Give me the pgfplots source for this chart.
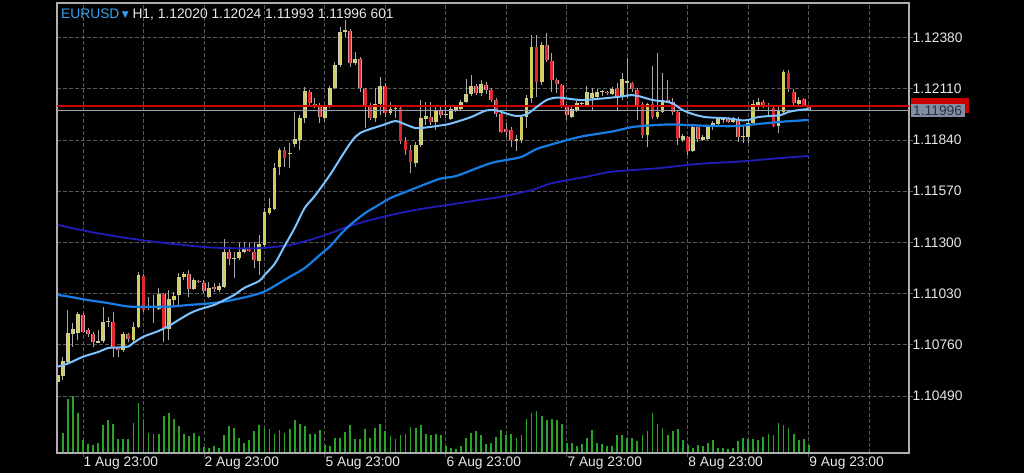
\documentclass[border=0pt]{standalone}
\usepackage{pgfplots}
\pgfplotsset{compat=1.18}
\usepackage{pgfplotstable}
\usepackage{fontspec}
\setmainfont{Liberation Sans}
\newfontfamily\dejavu{DejaVu Sans}
\definecolor{framegray}{RGB}{175,175,175}
\definecolor{gridgray}{RGB}{88,88,88}
\definecolor{lblgray}{RGB}{232,232,232}
\definecolor{wickgray}{RGB}{170,170,170}
\definecolor{bullfill}{RGB}{208,206,92}
\definecolor{bullline}{RGB}{205,205,180}
\definecolor{bearfill}{RGB}{220,40,46}
\definecolor{bearline}{RGB}{210,160,160}
\definecolor{malight}{RGB}{125,195,255}
\definecolor{mamid}{RGB}{22,125,228}
\definecolor{madark}{RGB}{32,30,185}
\definecolor{askred}{RGB}{205,0,0}
\definecolor{bidgray}{RGB}{150,160,175}
\definecolor{volgreen}{RGB}{40,165,40}
\definecolor{eurblue}{RGB}{55,160,240}
\definecolor{boxgray}{RGB}{128,143,162}
\definecolor{boxtext}{RGB}{40,50,62}

\pgfplotstableread{
x o h l c
-5 1.10565 1.10610 1.10557 1.10601
-4 1.10596 1.10694 1.10574 1.10676
-3 1.10671 1.10944 1.10662 1.10821
-2 1.10817 1.10873 1.10750 1.10843
-1 1.10824 1.10935 1.10785 1.10921
3 1.10771 1.10838 1.10768 1.10780
4 1.10780 1.10958 1.10771 1.10882
5 1.10882 1.10908 1.10856 1.10888
8 1.10733 1.10829 1.10724 1.10815
10 1.10785 1.10882 1.10776 1.10856
11 1.10856 1.11146 1.10847 1.11128
13 1.10956 1.11014 1.10944 1.10962
14 1.10958 1.11023 1.10873 1.10964
15 1.10947 1.11058 1.10944 1.11026
17 1.10843 1.11049 1.10785 1.11000
18 1.10996 1.11040 1.10961 1.11019
19 1.11023 1.11137 1.10970 1.11119
20 1.11119 1.11146 1.11102 1.11133
22 1.11054 1.11111 1.11049 1.11102
25 1.11014 1.11093 1.11005 1.11061
27 1.11049 1.11084 1.11040 1.11070
28 1.11066 1.11316 1.11058 1.11251
30 1.11213 1.11251 1.11111 1.11219
31 1.11216 1.11298 1.11207 1.11248
32 1.11248 1.11304 1.11243 1.11269
35 1.11204 1.11339 1.11128 1.11292
36 1.11286 1.11480 1.11277 1.11462
37 1.11457 1.11533 1.11445 1.11480
38 1.11475 1.11717 1.11471 1.11691
39 1.11699 1.11798 1.11656 1.11787
41 1.11766 1.11823 1.11691 1.11772
42 1.11819 1.11989 1.11805 1.11845
43 1.11840 1.11972 1.11787 1.11958
44 1.11955 1.12121 1.11928 1.12099
48 1.11958 1.12025 1.11937 1.12016
49 1.12016 1.12127 1.12007 1.12116
50 1.12116 1.12253 1.12109 1.12236
51 1.12236 1.12438 1.12227 1.12408
52 1.12408 1.12475 1.12385 1.12420
54 1.12245 1.12306 1.12236 1.12267
58 1.11955 1.12113 1.11937 1.12028
59 1.12028 1.12174 1.11972 1.12127
61 1.11981 1.12042 1.11972 1.12002
62 1.12005 1.12021 1.11955 1.12011
66 1.11717 1.11828 1.11699 1.11814
67 1.11814 1.12051 1.11805 1.11955
68 1.11951 1.12039 1.11919 1.11968
70 1.11935 1.12025 1.11893 1.11993
72 1.11970 1.12051 1.11955 1.11976
73 1.11949 1.12013 1.11946 1.12002
74 1.11995 1.12025 1.11988 1.12013
75 1.12002 1.12051 1.11995 1.12042
76 1.12042 1.12160 1.12034 1.12083
77 1.12083 1.12183 1.12072 1.12125
79 1.12086 1.12157 1.12072 1.12135
86 1.11837 1.11867 1.11784 1.11843
87 1.11840 1.11972 1.11826 1.11963
88 1.11963 1.12077 1.11902 1.12060
89 1.12060 1.12394 1.12034 1.12332
91 1.12148 1.12359 1.12130 1.12341
97 1.11960 1.12013 1.11955 1.12002
98 1.11998 1.12047 1.11989 1.12037
99 1.12029 1.12042 1.12013 1.12035
100 1.12025 1.12125 1.12016 1.12095
101 1.12060 1.12113 1.11998 1.12090
102 1.12067 1.12108 1.12051 1.12093
103 1.12091 1.12104 1.12072 1.12097
105 1.12083 1.12118 1.12077 1.12108
107 1.12069 1.12192 1.12051 1.12160
108 1.12142 1.12271 1.12060 1.12153
112 1.11867 1.12034 1.11805 1.12030
114 1.11960 1.12301 1.11949 1.11989
115 1.11989 1.12192 1.11981 1.12051
119 1.11840 1.11872 1.11831 1.11861
121 1.11784 1.11919 1.11778 1.11910
123 1.11840 1.11867 1.11836 1.11854
124 1.11844 1.11919 1.11840 1.11907
125 1.11907 1.11942 1.11893 1.11931
126 1.11925 1.11963 1.11919 1.11955
127 1.11943 1.11963 1.11928 1.11949
129 1.11937 1.11963 1.11928 1.11955
131 1.11857 1.11919 1.11826 1.11863
132 1.11854 1.11942 1.11823 1.11928
133 1.11928 1.12051 1.11919 1.12030
134 1.12025 1.12060 1.11998 1.12042
136 1.12018 1.12034 1.11963 1.12024
138 1.11914 1.12019 1.11876 1.11995
139 1.11989 1.12209 1.11981 1.12200
142 1.12030 1.12065 1.12025 1.12051
}\bulltab

\pgfplotstableread{
x o h l c
0 1.10917 1.10929 1.10821 1.10829
1 1.10838 1.10847 1.10803 1.10817
2 1.10817 1.10829 1.10750 1.10776
6 1.10879 1.10935 1.10694 1.10742
7 1.10742 1.10750 1.10697 1.10733
9 1.10815 1.10824 1.10776 1.10791
12 1.11124 1.11133 1.10935 1.10944
16 1.11026 1.11032 1.10776 1.10843
21 1.11133 1.11155 1.11014 1.11053
23 1.11097 1.11102 1.11084 1.11090
24 1.11088 1.11102 1.11032 1.11044
26 1.11066 1.11084 1.11040 1.11053
29 1.11248 1.11277 1.11181 1.11211
33 1.11265 1.11295 1.11251 1.11255
34 1.11248 1.11304 1.11163 1.11207
40 1.11787 1.11805 1.11699 1.11745
45 1.12095 1.12104 1.12025 1.12034
46 1.12031 1.12060 1.12007 1.12025
47 1.12016 1.12034 1.11928 1.11963
53 1.12417 1.12426 1.12227 1.12245
55 1.12267 1.12279 1.12095 1.12113
56 1.12109 1.12116 1.11902 1.12016
57 1.12025 1.12034 1.11946 1.11958
60 1.12127 1.12139 1.11963 1.11981
63 1.12010 1.12016 1.11817 1.11835
64 1.11835 1.11858 1.11761 1.11787
65 1.11787 1.11814 1.11665 1.11726
69 1.11963 1.12039 1.11919 1.11935
71 1.11995 1.12013 1.11955 1.11972
78 1.12125 1.12135 1.12077 1.12086
80 1.12130 1.12148 1.12083 1.12104
81 1.12104 1.12113 1.12042 1.12051
82 1.12051 1.12060 1.11963 1.11977
83 1.11977 1.11981 1.11876 1.11884
84 1.11897 1.11928 1.11858 1.11884
85 1.11893 1.11910 1.11805 1.11840
90 1.12329 1.12394 1.12069 1.12148
92 1.12341 1.12403 1.12253 1.12262
93 1.12258 1.12297 1.12095 1.12157
94 1.12157 1.12166 1.12086 1.12135
95 1.12130 1.12135 1.12007 1.12025
96 1.12019 1.12030 1.11946 1.11972
104 1.12094 1.12100 1.12077 1.12088
106 1.12108 1.12142 1.11998 1.12069
109 1.12139 1.12148 1.12095 1.12108
110 1.12104 1.12113 1.11946 1.12016
111 1.12030 1.12042 1.11849 1.11867
113 1.12030 1.12230 1.11949 1.11960
116 1.12051 1.12157 1.12034 1.12042
117 1.12042 1.12060 1.11972 1.11989
118 1.11989 1.11998 1.11814 1.11849
120 1.11858 1.11861 1.11761 1.11784
122 1.11910 1.11919 1.11831 1.11844
128 1.11949 1.11963 1.11928 1.11937
130 1.11949 1.11963 1.11831 1.11854
135 1.12042 1.12051 1.12007 1.12019
137 1.12007 1.12025 1.11907 1.11914
140 1.12195 1.12209 1.12095 1.12108
141 1.12095 1.12108 1.12025 1.12034
143 1.12055 1.12060 1.12013 1.12020
144 1.12020 1.12024 1.11993 1.11996
}\beartab

\pgfplotstableread{
x v
-4 58
-3 160
-2 168
-1 118
0 37
1 23
2 20
3 28
4 80
5 95
6 85
7 38
8 38
9 38
10 88
11 148
12 100
13 58
14 55
15 55
16 108
17 118
18 100
19 77
20 55
21 47
22 58
23 47
24 15
25 12
26 17
27 12
28 50
29 77
30 73
31 43
32 27
33 35
34 62
35 80
36 73
37 68
38 55
39 65
40 58
41 70
42 95
43 85
44 77
45 55
46 55
47 65
48 20
49 17
50 43
51 43
52 60
53 80
54 40
55 40
56 70
57 43
58 73
59 85
60 63
61 47
62 40
63 50
64 55
65 75
66 73
67 80
68 55
69 50
70 55
71 50
72 18
73 12
74 8
75 17
76 42
77 58
78 62
79 50
80 25
81 28
82 45
83 65
84 52
85 55
86 43
87 50
88 100
89 118
90 122
91 107
92 95
93 100
94 95
95 85
96 27
97 28
98 17
99 25
100 43
101 65
102 27
103 25
104 17
105 19
106 50
107 50
108 43
109 43
110 32
111 50
112 63
113 118
114 85
115 72
116 50
117 62
118 70
119 35
120 20
121 12
122 20
123 17
124 28
125 35
126 13
127 13
128 10
129 12
130 32
131 42
132 40
133 38
134 35
135 45
136 55
137 50
138 88
139 82
140 73
141 55
142 35
143 38
144 20
}\voltab

\begin{document}
\begin{tikzpicture}
\fill[black] (0bp,0bp) rectangle (1024bp,473bp);
\useasboundingbox (0bp,0bp) rectangle (1024bp,473bp);
\begin{axis}[
  at={(57bp,20bp)}, anchor=south west,
  scale only axis, width=852bp, height=450bp,
  xmin=-5.16, xmax=163.9, ymin=1.101894, ymax=1.125627,
  axis line style={draw=framegray, line width=1.4bp},
  xtick={0,24,48,72,96,120,144},
  xticklabels={1 Aug 23:00,2 Aug 23:00,5 Aug 23:00,6 Aug 23:00,7 Aug 23:00,8 Aug 23:00,9 Aug 23:00},
  minor xtick={12,36,60,84,108,132,156},
  ytick={1.10490,1.10760,1.11030,1.11300,1.11570,1.11840,1.12110,1.12380},
  yticklabels={1.10490,1.10760,1.11030,1.11300,1.11570,1.11840,1.12110,1.12380},
  xtick pos=left, ytick pos=right, yticklabel pos=right,
  tick align=outside, major tick length=3.5bp, minor tick length=0pt,
  tick style={draw=gridgray, line width=0.9bp},
  grid=both,
  major grid style={draw=gridgray, line width=0.9bp, dash pattern=on 3.5bp off 2.5bp},
  minor grid style={draw=gridgray, line width=0.9bp, dash pattern=on 3.5bp off 2.5bp},
  tick label style={font=\fontsize{13.8bp}{16bp}\selectfont, text=lblgray},
  yticklabel style={anchor=west, inner sep=0pt, xshift=0bp},
  xticklabel style={anchor=north west, inner sep=0pt, xshift=0.5bp},
  clip=true,
]
% wicks
\addplot[draw=none, mark=none, forget plot, error bars/.cd, y dir=plus, y explicit, error mark=none,
  error bar style={draw=wickgray, line width=1bp}]
  table[x=x, y=l, y error plus expr=\thisrow{h}-\thisrow{l}] {\bulltab};
\addplot[draw=none, mark=none, forget plot, error bars/.cd, y dir=plus, y explicit, error mark=none,
  error bar style={draw=wickgray, line width=1bp}]
  table[x=x, y=l, y error plus expr=\thisrow{h}-\thisrow{l}] {\beartab};
% bull bodies
\addplot[draw=none, mark=none, forget plot, error bars/.cd, y dir=plus, y explicit, error mark=none,
  error bar style={draw=bullline, line width=3.8bp}]
  table[x=x, y=o, y error plus expr=\thisrow{c}-\thisrow{o}] {\bulltab};
\addplot[draw=none, mark=none, forget plot, error bars/.cd, y dir=plus, y explicit, error mark=none,
  error bar style={draw=bullfill, line width=2.6bp}]
  table[x=x, y=o, y error plus expr=\thisrow{c}-\thisrow{o}] {\bulltab};
% bear bodies
\addplot[draw=none, mark=none, forget plot, error bars/.cd, y dir=plus, y explicit, error mark=none,
  error bar style={draw=bearline, line width=3.8bp}]
  table[x=x, y=c, y error plus expr=\thisrow{o}-\thisrow{c}] {\beartab};
\addplot[draw=none, mark=none, forget plot, error bars/.cd, y dir=plus, y explicit, error mark=none,
  error bar style={draw=bearfill, line width=2.6bp}]
  table[x=x, y=c, y error plus expr=\thisrow{o}-\thisrow{c}] {\beartab};
% ask / bid lines
\addplot[draw=askred, line width=1.8bp, forget plot] coordinates {(-6,1.12020) (165,1.12020)};
\addplot[draw=bidgray, line width=1bp, forget plot] coordinates {(-6,1.11996) (165,1.11996)};
% dark blue MA
\addplot[draw=madark, line width=1.8bp, smooth, tension=0.5] coordinates {
(-5,1.11392) (-1,1.11369) (3,1.11348) (9,1.11322) (14,1.11304) (20,1.11286) (25,1.11274)
(30,1.11269) (34,1.11269) (37,1.11274) (41,1.11286) (45,1.11313) (49,1.11348) (53,1.11387)
(57,1.11418) (62,1.11450) (67,1.11476) (73,1.11500) (78,1.11521) (83,1.11541) (89,1.11576)
(93,1.11612) (100,1.11647) (105,1.11673) (114,1.11691) (122,1.11714) (130,1.11726) (138,1.11744) (144,1.11756)};
% medium blue MA
\addplot[draw=mamid, line width=2.2bp, smooth, tension=0.5] coordinates {
(-5,1.11023) (-3,1.11015) (1,1.10996) (5,1.10980) (9,1.10962) (13,1.10961) (17,1.10961)
(21,1.10970) (25,1.10978) (28,1.10988) (31,1.11004) (34,1.11023) (36,1.11041) (38,1.11070)
(41,1.11118) (44,1.11165) (47,1.11234) (49,1.11279) (51,1.11339) (53,1.11392) (56,1.11455)
(58,1.11487) (61,1.11534) (64,1.11566) (68,1.11608) (71,1.11637) (74,1.11650) (78,1.11690)
(81,1.11719) (84,1.11735) (87,1.11751) (90,1.11793) (92,1.11809) (95,1.11832) (99,1.11859)
(105,1.11885) (108.5,1.11906) (111,1.11914) (116,1.11922) (120,1.11919) (125,1.11914)
(130,1.11914) (134,1.11925) (139,1.11937) (144,1.11946)};
% light blue MA
\addplot[draw=malight, line width=2bp, smooth, tension=0.5] coordinates {
(-5,1.10645) (-3,1.10661) (0,1.10697) (3,1.10722) (5,1.10743) (7,1.10746) (9,1.10751)
(10,1.10770) (12,1.10803) (15,1.10833) (17,1.10859) (18,1.10875) (21,1.10923) (23,1.10946)
(26,1.10970) (28,1.10996) (30,1.11023) (32,1.11060) (35,1.11097) (36,1.11128) (38,1.11186)
(40,1.11281) (42,1.11376) (44,1.11482) (46,1.11545) (49,1.11656) (51.5,1.11761) (53.5,1.11840)
(55,1.11877) (57,1.11898) (59.5,1.11919) (62,1.11940) (64,1.11922) (66,1.11903) (68,1.11906)
(71,1.11917) (73,1.11927) (77,1.11961) (80,1.11996) (82,1.11996) (84,1.11980) (86,1.11967)
(88,1.11975) (90,1.12014) (92,1.12051) (94,1.12064) (96,1.12059) (99,1.12051) (103,1.12059)
(106,1.12067) (109,1.12077) (110.5,1.12070) (113,1.12051) (115.5,1.12043) (117,1.12033)
(119,1.11998) (121,1.11977) (123.5,1.11961) (128,1.11954) (131,1.11943) (132,1.11946)
(134,1.11961) (136.5,1.11967) (138.5,1.11972) (140,1.11988) (142,1.11998) (144,1.12004)};
\end{axis}
% volume
\begin{axis}[
  at={(57bp,21bp)}, anchor=south west,
  scale only axis, width=852bp, height=56bp,
  xmin=-5.16, xmax=163.9, ymin=0, ymax=168,
  axis lines=none, xtick=\empty, ytick=\empty, clip=true,
]
\addplot[ycomb, draw=volgreen, line width=1.8bp, mark=none] table[x=x, y=v] {\voltab};
\end{axis}
% price boxes at right
\fill[askred] (910.7bp,359.7bp) rectangle (969.3bp,374.7bp);
\fill[boxgray] (910.7bp,356.3bp) rectangle (965bp,369bp);
\node[anchor=base west, inner sep=0pt, text=boxtext, font=\fontsize{13.8bp}{16bp}\selectfont] at (913bp,357.6bp) {1.11996};
% title
\node[anchor=base west, inner sep=0pt, text=lblgray, font=\fontsize{13.8bp}{16bp}\selectfont] at (61bp,454.7bp)
  {\textcolor{eurblue}{EURUSD\,{\dejavu\fontsize{9bp}{10bp}\selectfont\raisebox{0.8bp}{▼}}} H1, 1.12020 1.12024 1.11993 1.11996 601};
\end{tikzpicture}
\end{document}
